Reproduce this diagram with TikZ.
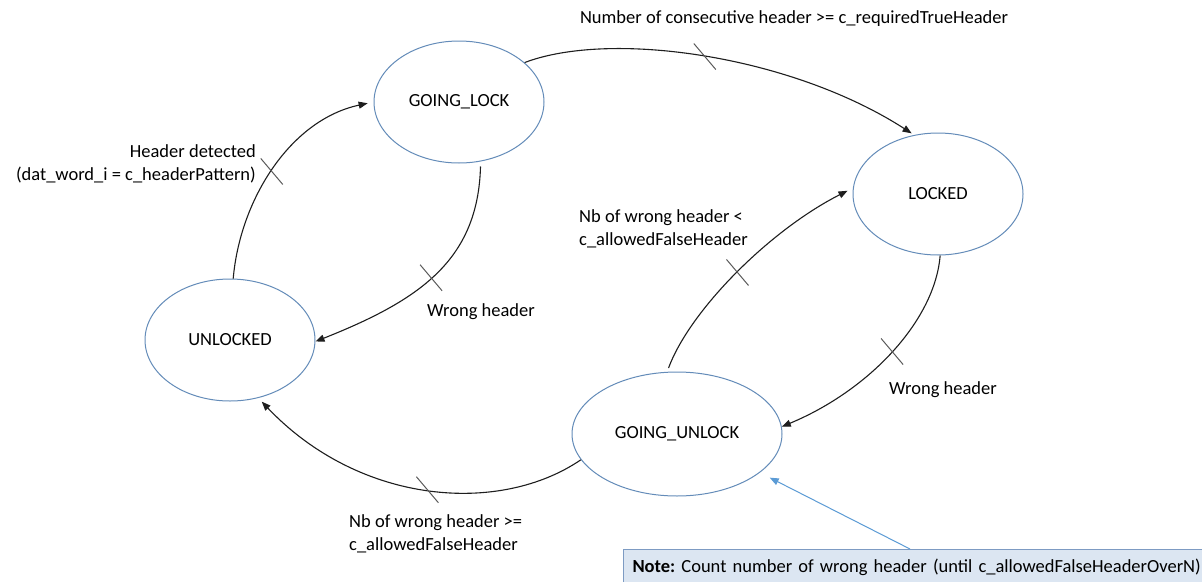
\documentclass[tikz,border=0pt]{standalone}
\usepackage{fontspec}
\setmainfont{Carlito}
\usetikzlibrary{shapes.geometric,arrows.meta}
\definecolor{ellblue}{RGB}{100,140,185}
\definecolor{arrgray}{RGB}{30,30,30}
\definecolor{tickgray}{RGB}{90,90,90}
\definecolor{noteblue}{RGB}{91,155,213}
\definecolor{notefill}{RGB}{220,230,242}
\definecolor{noteline}{RGB}{125,155,195}
\newcommand{\tickmark}[1]{\draw[tickline] ([shift={(-11,-13)}]#1) -- ([shift={(11,13)}]#1);}
\begin{document}
\begin{tikzpicture}[x=1pt,y=-1pt,
  every node/.style={font=\fontsize{18.5}{23}\selectfont},
  state/.style={ellipse, draw=ellblue, line width=1pt, minimum width=170pt, minimum height=122pt, inner sep=0pt},
  arr/.style={draw=arrgray, line width=1.1pt, -{Triangle[length=9pt,width=7pt]}},
  tickline/.style={draw=tickgray, line width=1pt},
  lbl/.style={inner sep=0pt},
  notebox/.style={rectangle, draw=noteline, fill=notefill, line width=1pt, text width=620pt, align=left, inner xsep=9pt, minimum height=36pt},
  notearr/.style={draw=noteblue, line width=1pt, -{Triangle[length=9pt,width=7pt]}}
]
\useasboundingbox (0,0) rectangle (1202,581);
\clip (0,0) rectangle (1202,581);
\fill[white] (0,0) rectangle (1202,581);

\node[state] (GL) at (459,102) {GOING\_LOCK};
\node[state] (LK) at (938,194) {LOCKED};
\node[state] (UL) at (230,340) {UNLOCKED};
\node[state, minimum width=210pt, minimum height=124pt] (GU) at (677,434) {GOING\_UNLOCK};

% UNLOCKED -> GOING_LOCK
\draw[arr, shorten >=6pt] (UL.87) .. controls (240,200) and (290,120) .. (GL.180) coordinate[pos=0.48] (t1);
% GOING_LOCK -> LOCKED
\draw[arr, shorten >=3pt] (GL.31) .. controls (610,30) and (790,55) .. (LK.112) coordinate[pos=0.5] (t2);
% GOING_LOCK -> UNLOCKED
\draw[arr, shorten <=5pt] (GL.-70) .. controls (478,260) and (420,300) .. (UL.-1) coordinate[pos=0.53] (t3);
% GOING_UNLOCK -> LOCKED
\draw[arr, shorten <=4pt, shorten >=6pt] (GU.99) .. controls (690,310) and (770,230) .. (LK.176) coordinate[pos=0.5] (t4);
% LOCKED -> GOING_UNLOCK
\draw[arr] (LK.-88) .. controls (935,320) and (870,390) .. (GU.4) coordinate[pos=0.5] (t5);
% GOING_UNLOCK -> UNLOCKED
\draw[arr, shorten >=5pt] (GU.195) .. controls (500,515) and (360,505) .. (UL.-64) coordinate[pos=0.5] (t6);

\tickmark{t1}
\tickmark{t2}
\tickmark{t3}
\tickmark{t4}
\tickmark{t5}
\tickmark{t6}

\node[lbl] (l2) at (794,19) {Number of consecutive header >= c\_requiredTrueHeader};
\node[lbl, anchor=east, align=right] (l1) at (256,164) {Header detected\\(dat\_word\_i = c\_headerPattern)};
\node[lbl] (l3) at (481,312) {Wrong header};
\node[lbl, anchor=west, align=left] (l4) at (579,229) {Nb of wrong header <\\c\_allowedFalseHeader};
\node[lbl] (l5) at (943,390) {Wrong header};
\node[lbl, anchor=west, align=left] (l6) at (349,534) {Nb of wrong header >=\\c\_allowedFalseHeader};

\node[notebox, anchor=north west] (note) at (623,549) {\textbf{Note:}~Count number of wrong header (until c\_allowedFalseHeaderOverN)};
\draw[notearr, shorten >=11pt] ([xshift=287pt]note.north west) -- (GU.-25);
\end{tikzpicture}
\end{document}
